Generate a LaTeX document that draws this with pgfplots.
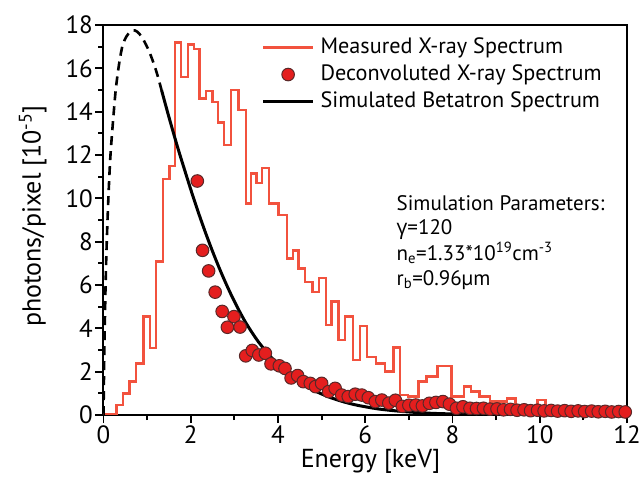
\documentclass[border=0pt]{standalone}
\usepackage{fontspec}
\setmainfont{PT Sans}
\newfontfamily\grk{Open Sans}
\usepackage{pgfplots}
\pgfplotsset{compat=1.18}
\definecolor{histred}{RGB}{242,82,62}
\definecolor{dotred}{RGB}{228,30,30}
\definecolor{dotedge}{RGB}{90,40,40}
\pgfplotsset{
  linelegend/.style={legend image code/.code={\draw[##1] (0pt,0pt) -- (50pt,0pt);}},
  dotlegend/.style={legend image code/.code={\draw[##1] plot coordinates {(25pt,0pt)};}},
}

\begin{document}
\begin{tikzpicture}
\begin{axis}[
  at={(0pt,0pt)}, anchor=south west,
  scale only axis, width=523.5pt, height=390pt,
  xmin=0, xmax=12, ymin=0, ymax=18,
  xtick={0,2,...,12}, ytick={0,2,...,18},
  minor x tick num=1, minor y tick num=1,
  tick align=outside, tick pos=left,
  major tick length=8pt, minor tick length=5pt,
  every tick/.style={black, line width=1.8pt},
  axis line style={line width=2pt},
  tick label style={font=\fontsize{25}{28}\selectfont, inner sep=0.5pt},
  xticklabel style={yshift=-2pt},
  yticklabel style={xshift=-2pt},
  /pgf/number format/assume math mode=true,
  xlabel={Energy [keV]},
  ylabel={photons/pixel [10\textsuperscript{-5}]},
  label style={font=\fontsize{26}{32}\selectfont},
  xlabel style={at={(axis description cs:0.51,0)}, anchor=base, yshift=-52pt, inner sep=0pt},
  ylabel style={at={(axis description cs:-0.135,0.51)}, anchor=center, inner sep=0pt},
  linelegend,
  legend cell align=left,
  legend style={at={(axis cs:3.62,17.5)}, anchor=north west, draw=none, fill=none,
    inner sep=0pt, column sep=6pt, row sep=4pt,
    font=\fontsize{22.2}{26}\selectfont,
    nodes={inner sep=0pt, text height=17pt, text depth=6pt}},
]

% measured spectrum (histogram)
\addplot[const plot mark left, color=histred, line width=2.4pt] coordinates {
(0.00,0.05) (0.30,0.46) (0.45,1.00) (0.60,1.54) (0.75,2.38) (0.92,4.54)
(1.07,3.08) (1.20,7.08) (1.36,10.9) (1.51,11.5) (1.64,17.2) (1.77,15.6)
(1.94,17.1) (2.08,16.9) (2.20,14.6) (2.35,14.95) (2.50,14.46) (2.63,13.5)
(2.76,12.46) (2.92,15.0) (3.09,14.07) (3.26,9.77) (3.38,11.15) (3.51,10.7)
(3.64,11.4) (3.80,9.77) (4.01,9.23) (4.20,7.23) (4.35,7.6) (4.47,6.77)
(4.62,6.15) (4.79,5.69) (4.94,6.31) (5.10,4.15) (5.23,5.23) (5.39,3.46)
(5.54,4.54) (5.72,2.54) (5.88,4.11) (6.04,2.69) (6.25,2.38) (6.45,2.0)
(6.65,3.12) (6.80,0.92) (6.98,0.85) (7.22,1.54) (7.40,1.77) (7.66,2.26)
(7.98,0.85) (8.27,1.31) (8.43,1.08) (8.62,0.85) (8.86,0.62) (9.25,0.77)
(9.44,0.23) (9.71,0.42) (9.95,0.69) (10.13,0.20) (10.55,0.42) (10.74,0.20)
(11.00,0.30) (11.20,0.15) (11.50,0.25) (11.70,0.15) (12.00,0.15)
};

% simulated spectrum, solid and dashed parts
\addplot[black, line width=3pt, smooth, forget plot] coordinates {
(1.33,15.0) (1.50,13.75) (1.70,12.35) (1.90,11.05) (2.05,10.1) (2.20,9.2)
(2.35,8.35) (2.50,7.55) (2.65,6.8) (2.80,6.1) (2.95,5.45) (3.10,4.85)
(3.25,4.3) (3.40,3.82) (3.55,3.38) (3.70,3.0) (3.85,2.65) (4.00,2.35)
(4.20,1.98) (4.40,1.66) (4.60,1.39) (4.80,1.16) (5.00,0.97) (5.25,0.77)
(5.50,0.61) (5.75,0.48) (6.00,0.38) (6.30,0.28) (6.60,0.21) (7.00,0.14)
(7.50,0.08) (8.00,0.05) (9.00,0.015)
};
\addplot[black, line width=2.6pt, smooth, dash pattern=on 9pt off 6pt, forget plot] coordinates {
(0.00,0.0) (0.02,3.0) (0.05,6.2) (0.08,8.3) (0.12,10.4) (0.16,12.0)
(0.22,13.6) (0.28,15.0) (0.35,16.1) (0.43,17.0) (0.52,17.45) (0.62,17.7)
(0.72,17.75) (0.82,17.6) (0.92,17.3) (1.02,16.9) (1.12,16.4) (1.22,15.8)
(1.33,15.0)
};

% deconvoluted spectrum
\addplot[only marks, mark=*, mark size=6.3pt,
  mark options={fill=dotred, draw=dotedge, line width=1pt}, dotlegend] coordinates {
(2.15,10.8) (2.27,7.6) (2.41,6.65) (2.56,5.67) (2.72,4.78) (2.84,4.05)
(2.99,4.54) (3.13,4.06) (3.26,2.73) (3.41,2.98) (3.56,2.77) (3.71,2.85)
(3.84,2.36) (4.03,2.27) (4.16,2.15) (4.30,1.71) (4.45,1.82) (4.58,1.54)
(4.74,1.46) (4.86,1.31) (5.00,1.46) (5.16,1.08) (5.31,1.23) (5.46,0.92)
(5.61,0.85) (5.77,0.96) (5.92,0.92) (6.07,0.80) (6.23,0.62) (6.38,0.69)
(6.54,0.55) (6.69,0.68) (6.85,0.40) (7.00,0.45) (7.16,0.46) (7.31,0.42)
(7.47,0.54) (7.62,0.58) (7.78,0.62) (7.93,0.50) (8.09,0.31) (8.24,0.38)
(8.40,0.31) (8.55,0.30) (8.71,0.31) (8.86,0.27) (9.02,0.28) (9.17,0.24)
(9.33,0.26) (9.48,0.22) (9.64,0.24) (9.79,0.20) (9.95,0.22) (10.10,0.19)
(10.26,0.21) (10.41,0.18) (10.57,0.20) (10.72,0.17) (10.88,0.19) (11.03,0.16)
(11.19,0.18) (11.34,0.15) (11.50,0.17) (11.65,0.14) (11.81,0.16) (11.96,0.14)
};
\addlegendimage{black, line width=3pt}
\legend{Measured X-ray Spectrum, Deconvoluted X-ray Spectrum, Simulated Betatron Spectrum}

% simulation parameters
\node[anchor=base west, font=\fontsize{21}{26}\selectfont] at (axis cs:6.64,9.46) {Simulation Parameters:};
\node[anchor=base west, font=\fontsize{21}{26}\selectfont] at (axis cs:6.64,8.31) {{\grk γ}=120};
\node[anchor=base west, font=\fontsize{21}{26}\selectfont] at (axis cs:6.64,7.15) {n\textsubscript{e}=1.33*10\textsuperscript{19}cm\textsuperscript{-3}};
\node[anchor=base west, font=\fontsize{21}{26}\selectfont] at (axis cs:6.64,6.00) {r\textsubscript{b}=0.96µm};
\end{axis}
\pgfresetboundingbox
\path (-103.5pt,-65pt) rectangle (538.5pt,415pt);
\end{tikzpicture}
\end{document}
